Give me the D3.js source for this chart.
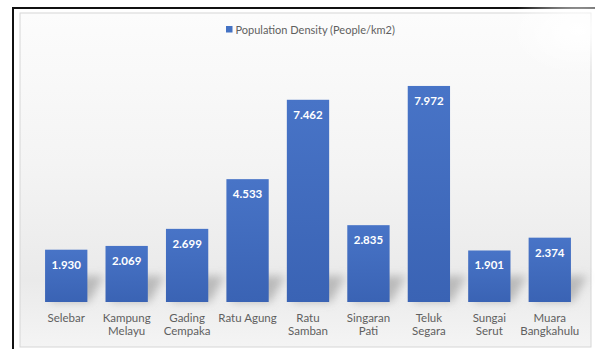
<!DOCTYPE html>
<html>
<head>
<meta charset="utf-8">
<script src="https://cdn.jsdelivr.net/npm/d3@7"></script>
<style>
  html, body { margin: 0; padding: 0; background: #ffffff; }
  svg { display: block; }
</style>
</head>
<body>
<svg id="chart" width="595" height="349"></svg>
<script>
// District names (one entry per line of the axis label)
const categories = [
  ["Selebar"],
  ["Kampung", "Melayu"],
  ["Gading", "Cempaka"],
  ["Ratu Agung"],
  ["Ratu", "Samban"],
  ["Singaran", "Pati"],
  ["Teluk", "Segara"],
  ["Sungai", "Serut"],
  ["Muara", "Bangkahulu"]
];
// Population density (People/km2)
const densityValues = [1.930, 2.069, 2.699, 4.533, 7.462, 2.835, 7.972, 1.901, 2.374];
const valueLabels = ["1.930", "2.069", "2.699", "4.533", "7.462", "2.835", "7.972", "1.901", "2.374"];
const seriesName = "Population Density (People/km2)";

const svg = d3.select("#chart");
const defs = svg.append("defs");

// panel background: soft vertical gradient
const bg = defs.append("linearGradient").attr("id", "panelBg")
  .attr("x1", 0).attr("y1", 0).attr("x2", 0).attr("y2", 1);
bg.append("stop").attr("offset", "0%").attr("stop-color", "#fcfcfc");
bg.append("stop").attr("offset", "45%").attr("stop-color", "#f4f4f4");
bg.append("stop").attr("offset", "80%").attr("stop-color", "#eaeaea");
bg.append("stop").attr("offset", "100%").attr("stop-color", "#f4f4f4");

// glare in the top-right corner
const glare = defs.append("radialGradient").attr("id", "glare")
  .attr("cx", 0.5).attr("cy", 0.5).attr("r", 0.5);
glare.append("stop").attr("offset", "0%").attr("stop-color", "#ffffff").attr("stop-opacity", 1);
glare.append("stop").attr("offset", "100%").attr("stop-color", "#ffffff").attr("stop-opacity", 0);

// bar fill
const barGrad = defs.append("linearGradient").attr("id", "barFill")
  .attr("x1", 0).attr("y1", 0).attr("x2", 0).attr("y2", 1);
barGrad.append("stop").attr("offset", "0%").attr("stop-color", "#4874c7");
barGrad.append("stop").attr("offset", "100%").attr("stop-color", "#3a63b4");

// blurred cast shadow
defs.append("filter").attr("id", "shadowBlur")
  .attr("x", "-50%").attr("y", "-50%").attr("width", "200%").attr("height", "200%")
  .append("feGaussianBlur").attr("stdDeviation", 4);

// outer frame
svg.append("rect").attr("x", 13).attr("y", 8).attr("width", 590).attr("height", 360)
  .attr("fill", "#ffffff").attr("stroke", "#111111").attr("stroke-width", 2);

// chart panel
svg.append("rect").attr("x", 20).attr("y", 13).attr("width", 571).attr("height", 334)
  .attr("fill", "url(#panelBg)").attr("stroke", "#d6d6d6").attr("stroke-width", 1);
svg.append("ellipse").attr("cx", 578).attr("cy", 30).attr("rx", 70).attr("ry", 45)
  .attr("fill", "url(#glare)");

// scales
const x = d3.scaleBand()
  .domain(d3.range(categories.length))
  .range([36, 580])
  .paddingInner(0.3)
  .paddingOuter(0.15);
const y = d3.scaleLinear().domain([0, 9]).range([302, 302 - 9 * 27.1]);

// cast shadows behind the bars
const shadows = svg.append("g").attr("filter", "url(#shadowBlur)");
shadows.selectAll("path").data(densityValues).join("path")
  .attr("d", (d, i) => {
    const x0 = x(i), x1 = x(i) + x.bandwidth(), yb = y(0);
    const h = Math.min(26, y(0) - y(d));
    return `M${x0 + 4},${yb} L${x1 + 2},${yb} L${x1 + 16},${yb - h} L${x0 + 18},${yb - h} Z`;
  })
  .attr("fill", "#8a8a8a").attr("opacity", 0.5);

// bars
svg.append("g").selectAll("rect").data(densityValues).join("rect")
  .attr("x", (d, i) => x(i))
  .attr("y", d => y(d))
  .attr("width", x.bandwidth())
  .attr("height", d => y(0) - y(d))
  .attr("fill", "url(#barFill)");

// value labels inside the bars
svg.append("g").selectAll("text").data(densityValues).join("text")
  .attr("x", (d, i) => x(i) + x.bandwidth() / 2)
  .attr("y", d => y(d) + 19)
  .attr("text-anchor", "middle")
  .attr("font-family", "Lato, 'Open Sans', sans-serif")
  .attr("font-weight", 700)
  .attr("font-size", 11.5)
  .attr("fill", "#ffffff")
  .text((d, i) => valueLabels[i]);

// category axis labels
const xAxis = d3.axisBottom(x).tickSize(0).tickFormat(() => "");
const axisG = svg.append("g").attr("transform", `translate(0,${y(0)})`).call(xAxis);
axisG.select(".domain").remove();
axisG.selectAll(".tick").each(function(i) {
  const t = d3.select(this).append("text")
    .attr("text-anchor", "middle")
    .attr("font-family", "Lato, 'Open Sans', sans-serif")
    .attr("font-size", 11.5)
    .attr("fill", "#5f5f5f");
  categories[i].forEach((line, k) => {
    t.append("tspan").attr("x", 0).attr("y", 20 + k * 13).text(line);
  });
});

// legend
const legend = svg.append("g").attr("transform", "translate(226,26)");
legend.append("rect").attr("width", 6.5).attr("height", 6.5).attr("fill", "#4472c4");
legend.append("text").attr("x", 9.5).attr("y", 7.5)
  .attr("font-family", "Lato, 'Open Sans', sans-serif")
  .attr("font-size", 11)
  .attr("fill", "#5f5f5f")
  .text(seriesName);
</script>
</body>
</html>
